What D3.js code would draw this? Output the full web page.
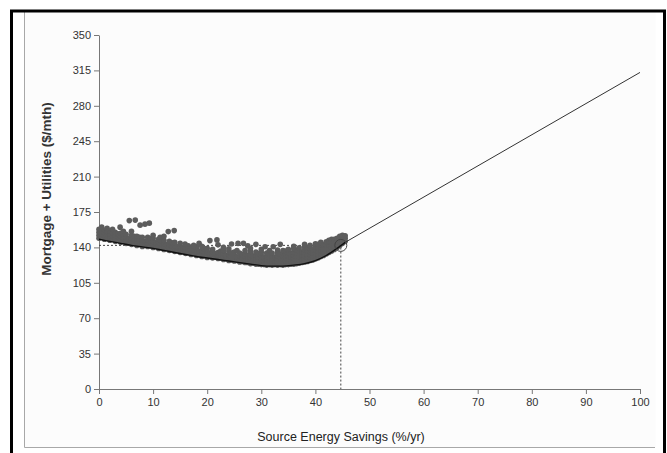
<!DOCTYPE html>
<html>
<head>
<meta charset="utf-8">
<script src="https://cdn.jsdelivr.net/npm/d3@7"></script>
<style>
  body { margin: 0; background: #fff; }
  svg text { font-family: "Liberation Sans", Arial, sans-serif; }
</style>
</head>
<body>
<script>
// tick values
const xTicks = [0, 10, 20, 30, 40, 50, 60, 70, 80, 90, 100];
const yTicks = [0, 35, 70, 105, 140, 175, 210, 245, 280, 315, 350];

// simulated designs: savings (%/yr) -> stacks of cost values ($/mth)
const bandColumns = [
  [0, [149, 152, 155, 158]], [0.5, [150.5, 153.5, 156.5]],
  [1, [148, 151, 154, 157]], [1.5, [149, 152.5, 155.5]],
  [2, [147, 150, 153, 156]], [2.5, [148, 151.5, 154.5]],
  [3, [146, 149, 152, 155]], [3.5, [147, 150.5, 153.5]],
  [4, [145, 148, 151, 154]], [4.5, [146, 149.5, 152.5]],
  [5, [144, 147, 150, 153]], [5.5, [145, 148.5]],
  [6, [143, 146, 149, 152]], [6.5, [144, 147.5, 151]],
  [7, [142, 145, 148, 151]], [7.5, [143, 146.5, 150]],
  [8, [141, 144, 147, 150]], [8.5, [142, 145.5]],
  [9, [141, 144, 147, 150]], [9.5, [141.5, 145, 148.5]],
  [10, [140, 143, 146, 149]], [10.5, [141, 144.5]],
  [11, [139, 142, 145, 148]], [11.5, [140, 143.5, 146.5]],
  [12, [138, 141, 144, 147]], [12.5, [139, 142.5]],
  [13, [137, 140, 143, 146]], [13.5, [138, 141.5, 144.5]],
  [14, [136, 139, 142, 145]], [14.5, [137, 140.5]],
  [15, [135, 138, 141, 144]], [15.5, [136, 139.5]],
  [16, [134, 137, 140]], [16.5, [135, 138.5, 141.5]],
  [17, [133, 136, 139]], [17.5, [134, 137.5]],
  [18, [132, 135, 138, 140.5]], [18.5, [133, 136.5]],
  [19, [131, 134, 137]], [19.5, [132, 135.5, 138.5]],
  [20, [130, 133, 136, 139]], [20.5, [131, 134.5]],
  [21, [129.5, 132.5, 135.5, 138]], [21.5, [130.5, 134]],
  [22, [129, 132, 135]], [22.5, [129.5, 133, 136.5]],
  [23, [128, 131, 134, 137]], [23.5, [128.5, 132]],
  [24, [127, 130, 133, 136, 138.5]], [24.5, [127.5, 131, 134.5]],
  [25, [126.5, 129.5, 132.5, 135.5]], [25.5, [127, 130.5, 137]],
  [26, [125.5, 128.5, 131.5, 134.5]], [26.5, [126, 129.5, 133]],
  [27, [125, 128, 131, 134, 137]], [27.5, [125, 128.5, 132]],
  [28, [124, 127, 130, 133, 136]], [28.5, [124.5, 128, 131.5]],
  [29, [123.5, 126.5, 129.5, 132.5, 135.5]], [29.5, [123.5, 127, 130.5, 134]],
  [30, [123, 126, 129, 132, 135, 138]], [30.5, [123, 126.5, 130]],
  [31, [122.5, 125.5, 128.5, 131.5, 134.5]], [31.5, [123, 126.5, 130, 133.5, 137]],
  [32, [122.5, 125.5, 128.5, 131.5, 134.5]], [32.5, [123, 126.5, 130]],
  [33, [122.5, 125.5, 128.5, 131.5, 134.5, 137.5]], [33.5, [123, 126.5, 130, 133.5]],
  [34, [122.5, 125.5, 128.5, 131.5, 134.5, 137]], [34.5, [123, 126.5, 130, 133.5, 136.5]],
  [35, [123, 126, 129, 132, 135, 138]], [35.5, [123.5, 127, 130.5, 134]],
  [36, [123.5, 126.5, 129.5, 132.5, 135.5, 138.5]], [36.5, [124, 127.5, 131, 134.5, 137.5]],
  [37, [124.5, 127.5, 130.5, 133.5, 136.5, 139.5]], [37.5, [125, 128.5, 132, 135.5]],
  [38, [125.5, 128.5, 131.5, 134.5, 137.5, 140.5]], [38.5, [126, 129.5, 133, 136.5, 139.5]],
  [39, [127, 130, 133, 136, 139, 142]], [39.5, [127.5, 131, 134.5, 138]],
  [40, [128.5, 131.5, 134.5, 137.5, 140.5, 143.5]], [40.5, [129.5, 133, 136.5, 140, 143]],
  [41, [131, 134, 137, 140, 143, 145]], [41.5, [132, 135.5, 139, 142.5]],
  [42, [133.5, 136.5, 139.5, 142.5, 145.5]], [42.5, [135, 138.5, 142, 145.5, 147]],
  [43, [136.5, 139.5, 142.5, 145.5, 148]], [43.5, [138, 141.5, 145, 148]],
  [44, [140, 143, 146, 149]], [44.5, [142, 145.5, 149, 151]],
  [45, [144, 147, 150, 152]], [45.5, [146, 149, 151.5]]
];

const outliers = [
  [0.5, 160], [1.5, 159], [2.5, 158], [3.9, 160], [4.5, 156], [5.6, 166.5],
  [6, 156], [6.7, 167], [7.6, 162], [8.5, 163], [9.3, 164], [10, 152],
  [11.3, 150], [12, 151], [12.8, 155.6], [13.9, 156.6], [15.9, 143.4],
  [17.5, 142], [18.5, 144], [19, 141], [20.5, 146.7], [21.8, 147.4],
  [22, 142.5], [23, 140], [24.5, 143.4], [25.7, 144], [26.7, 144],
  [27.5, 141.5], [28, 139], [29, 143], [30.7, 140.7], [32.2, 140.7],
  [33.5, 143], [36, 141], [38, 143]
];

// least-cost curve and the straight extension beyond the optimum
const lowerCurve = [
  [0, 148], [2, 146], [4, 144], [6, 142], [8, 140.5], [10, 139], [12, 137],
  [14, 135], [16, 133], [18, 131], [20, 129.5], [22, 128], [24, 126.5],
  [26, 125], [28, 123.5], [30, 122], [32, 121.5], [34, 121.5], [36, 122.5],
  [38, 124], [40, 127], [42, 132], [44, 139], [45.5, 145]
];
const extension = [[45.5, 145], [100, 313]];
const optimum = [44.7, 142];

const width = 667, height = 453;

const svg = d3.select("body").append("svg")
    .attr("width", width)
    .attr("height", height);

// frame
svg.append("rect")
    .attr("x", 24.5).attr("y", 12).attr("width", 631).attr("height", 435)
    .attr("fill", "#fcfcfc").attr("stroke", "none");
svg.append("path")
    .attr("d", "M24.5,12V447.5H655")
    .attr("fill", "none").attr("stroke", "#a8a8a8");
svg.append("path")
    .attr("d", "M11.5,453V11H664.5V453")
    .attr("fill", "none").attr("stroke", "#000").attr("stroke-width", 3);

const x = d3.scaleLinear([0, 100], [99, 640]);
const y = d3.scaleLinear([0, 350], [389, 35]);

const axisStyle = g => {
  g.select(".domain").attr("stroke", "#777");
  g.selectAll(".tick line").attr("stroke", "#777");
  g.selectAll(".tick text").attr("fill", "#333").attr("font-size", 11)
      .attr("font-family", "\"Liberation Sans Narrow\", \"Liberation Sans\", Arial, sans-serif");
};

svg.append("g")
    .attr("transform", `translate(0,${y(0)})`)
    .call(d3.axisBottom(x).tickValues(xTicks).tickSize(5).tickSizeOuter(5).tickPadding(4))
    .call(axisStyle);

svg.append("g")
    .attr("transform", `translate(${x(0)},0)`)
    .call(d3.axisLeft(y).tickValues(yTicks).tickSize(5).tickSizeOuter(0).tickPadding(3))
    .call(axisStyle);

// dotted guides to the optimum
const guide = d3.line().x(d => x(d[0])).y(d => y(d[1]));
svg.append("path")
    .attr("d", guide([[0, optimum[1]], optimum, [optimum[0], 0]]))
    .attr("fill", "none")
    .attr("stroke", "#444")
    .attr("stroke-dasharray", "2,2");

// points
const points = bandColumns.flatMap(([sx, ys]) => ys.map(v => [sx, v])).concat(outliers);
svg.append("g")
    .attr("fill", "#5c5c5c")
  .selectAll("circle")
  .data(points)
  .join("circle")
    .attr("cx", d => x(d[0]))
    .attr("cy", d => y(d[1]))
    .attr("r", 2.8);

const line = d3.line().x(d => x(d[0])).y(d => y(d[1])).curve(d3.curveMonotoneX);
svg.append("path")
    .attr("d", line(lowerCurve))
    .attr("fill", "none")
    .attr("stroke", "#111")
    .attr("stroke-width", 1.4);

svg.append("path")
    .attr("d", guide(extension))
    .attr("fill", "none")
    .attr("stroke", "#333")
    .attr("stroke-width", 1);

svg.append("circle")
    .attr("cx", x(optimum[0]))
    .attr("cy", y(optimum[1]))
    .attr("r", 6)
    .attr("fill", "none")
    .attr("stroke", "#444");

// axis titles
svg.append("text")
    .attr("x", 341).attr("y", 441)
    .attr("text-anchor", "middle")
    .attr("font-size", 12.5)
    .attr("fill", "#222")
    .text("Source Energy Savings (%/yr)");

svg.append("text")
    .attr("transform", "translate(51,189) rotate(-90)")
    .attr("text-anchor", "middle")
    .attr("font-size", 13.5)
    .attr("font-weight", "bold")
    .attr("fill", "#333")
    .text("Mortgage + Utilities ($/mth)");
</script>
</body>
</html>
